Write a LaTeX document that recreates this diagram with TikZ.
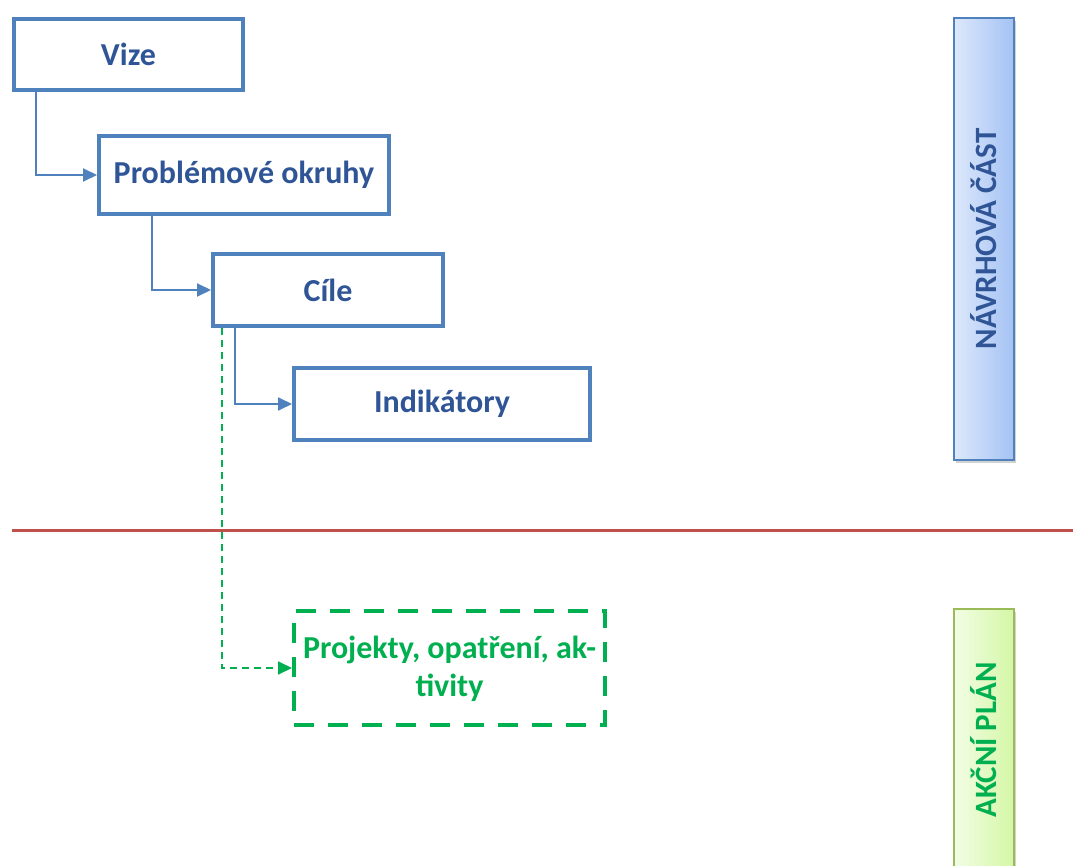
\documentclass[tikz,border=0pt]{standalone}
\usepackage{fontspec}
\setmainfont{Carlito}
\usetikzlibrary{arrows.meta,shadows,calc}
\definecolor{boxblue}{HTML}{4F81BD}
\definecolor{txtblue}{HTML}{2F5597}
\definecolor{green1}{HTML}{00B050}
\definecolor{redline}{HTML}{C0504D}
\definecolor{barblue1}{HTML}{DDE8FB}
\definecolor{barblue2}{HTML}{A4C2F4}
\definecolor{bargreen1}{HTML}{F2FDE4}
\definecolor{bargreen2}{HTML}{D4F7A6}
\definecolor{bargreenb}{HTML}{9BBB59}
\begin{document}
\begin{tikzpicture}[x=1pt,y=-1pt,
  stagebox/.style={draw=boxblue,line width=4pt,fill=white,inner sep=0pt,
    font=\fontsize{32}{38}\selectfont\bfseries,text=txtblue},
  conn/.style={draw=boxblue,line width=2pt,-{Triangle[length=14pt,width=13pt]}},
  gconn/.style={draw=green1,line width=2pt,dash pattern=on 7pt off 5pt,
    -{Triangle[length=14pt,width=13pt]}},
  sidebar/.style={line width=1.5pt,inner sep=0pt,rotate=90,
    drop shadow={shadow xshift=2pt,shadow yshift=-3pt,opacity=0.35},
    font=\fontsize{31}{36}\selectfont\bfseries}]
\useasboundingbox (0,0) rectangle (1073,866);
\fill[white] (0,0) rectangle (1073,866);

\node[stagebox,minimum width=229pt,minimum height=71pt] (vize) at (128.5,54.5) {Vize};
\node[stagebox,minimum width=290pt,minimum height=78pt] (prob) at (244,175) {Problémové okruhy};
\node[stagebox,minimum width=230pt,minimum height=72pt] (cile) at (328,290) {Cíle};
\node[stagebox,minimum width=296pt,minimum height=72pt] (ind) at (442,404) {Indikátory};

\node[draw=green1,line width=4pt,dash pattern=on 20pt off 14pt,inner sep=0pt,
  minimum width=311pt,minimum height=114pt,text=green1,align=center,
  text depth=4pt,
  font=\fontsize{32}{38}\selectfont\bfseries] (proj) at (449.5,668)
  {Projekty, opatření, ak-\\tivity};

\coordinate (c1) at (36,0);
\coordinate (c2) at (152,0);
\coordinate (c3) at (235,0);
\coordinate (c4) at (222,0);
\draw[conn] (vize.south -| c1) |- (prob.west);
\draw[conn] (prob.south -| c2) |- (cile.west);
\draw[conn] (cile.south -| c3) |- (ind.west);
\draw[gconn] (cile.south -| c4) |- (proj.west);

\coordinate (rl) at (12,530);
\coordinate (rr) at (1073,530);
\draw[redline,line width=3pt] (rl) -- (rr);

\node[sidebar,draw=boxblue,left color=barblue1,right color=barblue2,text=txtblue,
  minimum width=442pt,minimum height=60pt] (navrh) at (984,239) {NÁVRHOVÁ ČÁST};
\node[sidebar,draw=bargreenb,left color=bargreen1,right color=bargreen2,text=green1,
  minimum width=262pt,minimum height=60pt] (akce) at (984,740) {AKČNÍ PLÁN};
\end{tikzpicture}
\end{document}
